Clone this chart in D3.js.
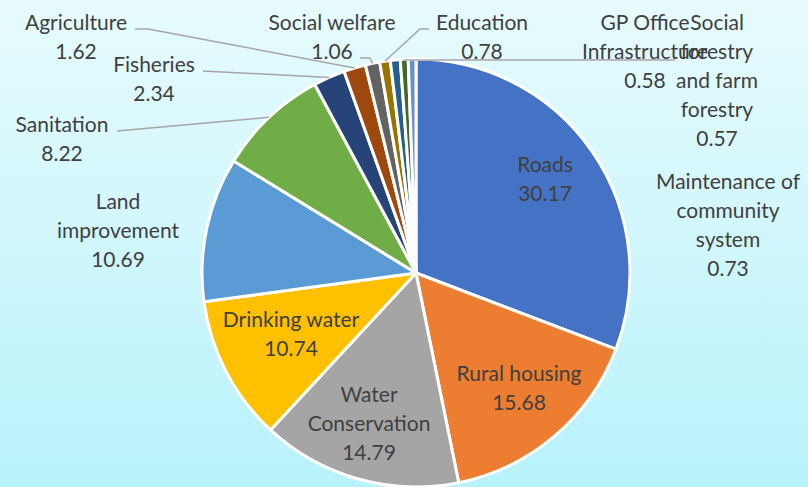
<!DOCTYPE html>
<html>
<head>
<meta charset="utf-8">
<script src="https://cdn.jsdelivr.net/npm/d3@7"></script>
<style>
  html, body { margin: 0; padding: 0; }
  svg { display: block; }
  text { font-family: Lato, "Open Sans", sans-serif; fill: #404040; }
</style>
</head>
<body>
<svg id="chart" width="808" height="487"></svg>
<script>
// ---- data ----
const categories = [
  "Roads", "Rural housing", "Water Conservation", "Drinking water",
  "Land improvement", "Sanitation", "Fisheries", "Agriculture",
  "Social welfare", "Education", "Maintenance of community system",
  "GP Office Infrastructure", "Social forestry and farm forestry"
];
const values = [30.17, 15.68, 14.79, 10.74, 10.69, 8.22, 2.34, 1.62, 1.06, 0.78, 0.73, 0.58, 0.57];
const colors = [
  "#4472C4", "#ED7D31", "#A5A5A5", "#FFC000", "#5B9BD5", "#70AD47",
  "#264478", "#9E480E", "#636363", "#997300", "#255E91", "#43682B", "#698ED0"
];

// ---- label layout (text wrapping, anchor x, first baseline y, leader start points) ----
const labelLayout = {
  "Roads": { lines: ["Roads"], x: 545, y: 172 },
  "Rural housing": { lines: ["Rural housing"], x: 519, y: 381 },
  "Water Conservation": { lines: ["Water", "Conservation"], x: 369, y: 402 },
  "Drinking water": { lines: ["Drinking water"], x: 291, y: 327 },
  "Land improvement": { lines: ["Land", "improvement"], x: 118, y: 209 },
  "Sanitation": { lines: ["Sanitation"], x: 62, y: 132, leader: [[117, 131]] },
  "Fisheries": { lines: ["Fisheries"], x: 154, y: 72, leader: [[203, 71]] },
  "Agriculture": { lines: ["Agriculture"], x: 76, y: 30, leader: [[135, 29], [148, 29]] },
  "Social welfare": { lines: ["Social welfare"], x: 332, y: 30, leader: [[360, 58], [370, 58]] },
  "Education": { lines: ["Education"], x: 482, y: 30, leader: [[429, 29], [420, 29]] },
  "Maintenance of community system": { lines: ["Maintenance of", "community", "system"], x: 728, y: 189 },
  "GP Office Infrastructure": { lines: ["GP Office", "Infrastructure"], x: 645, y: 30, leader: [[675, 60], [404, 60]] },
  "Social forestry and farm forestry": { lines: ["Social", "forestry", "and farm", "forestry"], x: 717, y: 30 }
};

const W = 808, H = 487;
const cx = 416, cy = 273, R = 214;
const lineH = 29;

const svg = d3.select("#chart");

// background gradient
const defs = svg.append("defs");
const grad = defs.append("linearGradient").attr("id", "bg")
  .attr("x1", 0).attr("y1", 0).attr("x2", 0).attr("y2", 1);
grad.append("stop").attr("offset", "0%").attr("stop-color", "#e7fbfd");
grad.append("stop").attr("offset", "100%").attr("stop-color", "#b8f2fb");
svg.append("rect").attr("width", W).attr("height", H).attr("fill", "url(#bg)");

const data = categories.map((c, i) => ({ name: c, value: values[i], color: colors[i] }));

const pie = d3.pie().sort(null).value(d => d.value);
const arcs = pie(data);
const arc = d3.arc().innerRadius(0).outerRadius(R);
const edgeArc = d3.arc().innerRadius(R).outerRadius(R);

const g = svg.append("g").attr("transform", `translate(${cx},${cy})`);

// leader lines (drawn below slices' white border so they end at the edge)
const leaders = svg.append("g");
arcs.forEach(a => {
  const L = labelLayout[a.data.name];
  if (!L.leader) return;
  const [ex, ey] = edgeArc.centroid(a);
  const pts = L.leader.concat([[cx + ex, cy + ey]]);
  leaders.append("path")
    .attr("d", d3.line()(pts))
    .attr("fill", "none")
    .attr("stroke", "#a6a6a6")
    .attr("stroke-width", 1.5);
});

g.selectAll("path.slice").data(arcs).join("path")
  .attr("class", "slice")
  .attr("d", arc)
  .attr("fill", d => d.data.color)
  .attr("stroke", "#ffffff")
  .attr("stroke-width", 3)
  .attr("stroke-linejoin", "round");

// labels
const labels = svg.append("g");
arcs.forEach(a => {
  const L = labelLayout[a.data.name];
  const lines = L.lines.concat([a.data.value.toFixed(2)]);
  const t = labels.append("text")
    .attr("text-anchor", "middle")
    .attr("font-size", 21);
  lines.forEach((ln, i) => {
    t.append("tspan").attr("x", L.x).attr("y", L.y + i * lineH).text(ln);
  });
});
</script>
</body>
</html>
